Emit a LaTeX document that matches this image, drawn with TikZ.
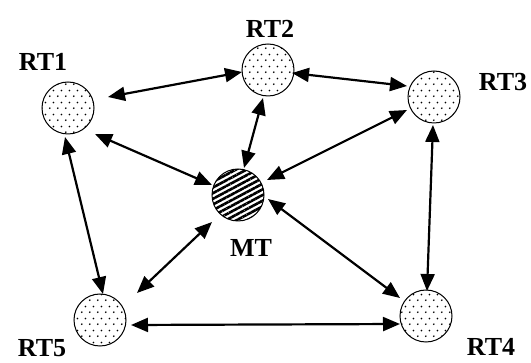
\documentclass[tikz,border=0pt]{standalone}
\usepackage{fontspec}
\setmainfont{Liberation Serif}
\usetikzlibrary{arrows.meta,calc,patterns.meta}

% staggered dot fill for the router nodes
\pgfdeclarepattern{
  name=stagdots,
  type=uncolored,
  bottom left={\pgfpoint{0pt}{0pt}},
  top right={\pgfpoint{8pt}{12pt}},
  tile size={\pgfpoint{8pt}{12pt}},
  code={
    \pgfpathcircle{\pgfpoint{2pt}{3pt}}{1pt}
    \pgfpathcircle{\pgfpoint{6pt}{9pt}}{1pt}
    \pgfusepath{fill}
  }
}

\tikzset{
  router/.style={circle, draw, line width=1pt, minimum size=52pt, inner sep=0pt,
                 pattern=stagdots, pattern color=black},
  mobile/.style={circle, draw, line width=1pt, minimum size=52pt, inner sep=0pt,
                 pattern={Lines[angle=28,distance=5pt,line width=2.6pt]}, pattern color=black},
  lbl/.style={font=\fontsize{26}{26}\selectfont\bfseries, inner sep=0pt},
  link/.style={line width=2.2pt, {Triangle[length=17pt,width=14pt]}-{Triangle[length=17pt,width=14pt]}}
}

\begin{document}
\begin{tikzpicture}[x=1pt,y=-1pt]
\useasboundingbox (0,0) rectangle (531,363);

% nodes
\node[router] (rt1) at (68,108) {};
\node[router] (rt2) at (268,70) {};
\node[router] (rt3) at (434,97) {};
\node[router] (rt4) at (426,316) {};
\node[router] (rt5) at (100,320) {};
\node[mobile] (mt)  at (238,195) {};

% labels
\node[lbl] (l1) at (43,62) {RT1};
\node[lbl] (l2) at (270,29) {RT2};
\node[lbl] (l3) at (503,82) {RT3};
\node[lbl] (l4) at (491,347) {RT4};
\node[lbl] (l5) at (42,348) {RT5};
\node[lbl] (lm) at (251,248) {MT};

% links
\draw[link] ($(rt1)+(40,-11)$) -- ($(rt2)+(-26,2)$);
\draw[link] ($(rt2)+(24,3)$)   -- ($(rt3)+(-27,-11)$);
\draw[link] ($(rt1)+(27,26)$)  -- ($(mt)+(-26,-10)$);
\draw[link] ($(rt2)+(-5,28)$)  -- ($(mt)+(6,-27)$);
\draw[link] ($(rt3)+(-27,13)$) -- ($(mt)+(29,-15)$);
\draw[link] ($(rt1)+(-3,29)$)  -- ($(rt5)+(3,-26)$);
\draw[link] ($(rt3)+(-1,28)$)  -- ($(rt4)+(1,-25)$);
\draw[link] ($(mt)+(-26,27)$)  -- ($(rt5)+(37,-27)$);
\draw[link] ($(mt)+(30,4)$)    -- ($(rt4)+(-26,-18)$);
\draw[link] ($(rt5)+(31,5)$)   -- ($(rt4)+(-26,8)$);
\end{tikzpicture}
\end{document}
